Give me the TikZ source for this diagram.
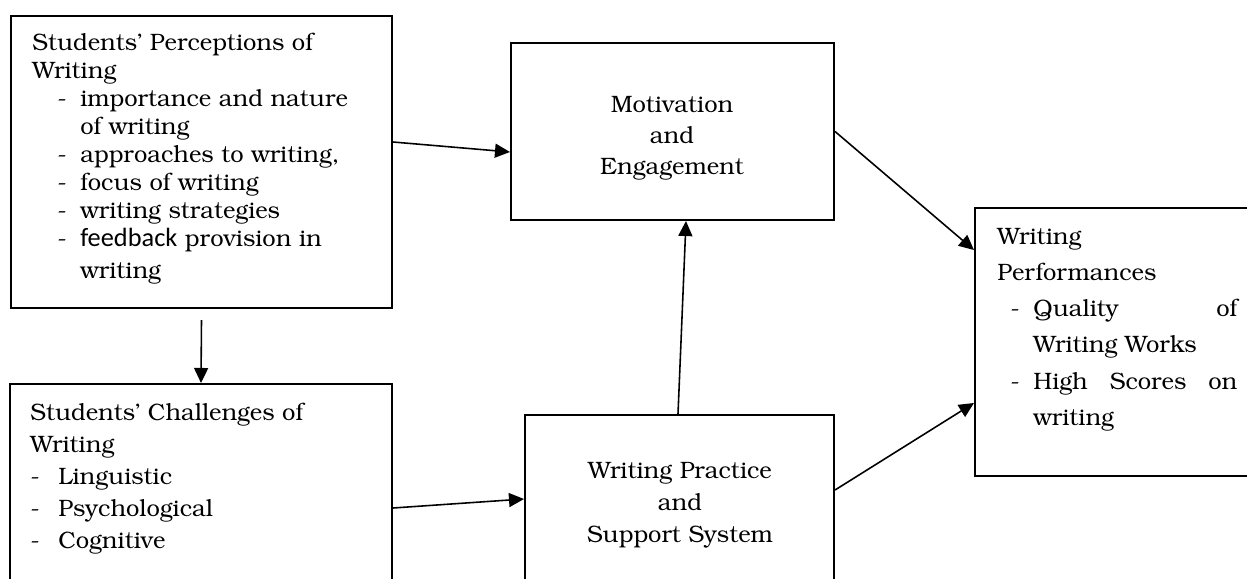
\documentclass[tikz,border=0pt]{standalone}
\usepackage{fontspec}
\newfontfamily\fbfont{Carlito}
\usepackage[T1]{fontenc}
\usepackage{bookman}
\usetikzlibrary{arrows.meta}

% dash item of a list, hanging indent for the following line
\newcommand{\itm}[2]{\makebox[#1][l]{-}#2}

\begin{document}
\begin{tikzpicture}[x=0.02cm, y=-0.02cm,
    frame/.style={draw, line width=1.2pt, inner sep=0pt},
    boxtext/.style={inner sep=0pt, align=left, font=\fontsize{13.5}{#1}\selectfont},
    boxtext/.default=15.9pt,
    midtext/.style={inner sep=0pt, align=center, font=\fontsize{13.5}{#1}\selectfont},
    midtext/.default=17.6pt,
    arr/.style={-{Triangle[length=0.3cm, width=0.28cm]}, line width=0.9pt}
  ]
    \useasboundingbox (0,0) rectangle (1247,578);
    \clip (0,0) rectangle (1247,578);

    % frames
    \node[frame, minimum width=7.62cm, minimum height=5.84cm] (percep) at (201.5,162) {};
    \node[frame, minimum width=7.64cm, minimum height=4.4cm] (chall) at (201,494) {};
    \node[frame, minimum width=6.46cm, minimum height=3.54cm] (motiv) at (672.5,131.5) {};
    \node[frame, minimum width=6.18cm, minimum height=3.7cm] (pract) at (679.5,507.5) {};
    \node[frame, minimum width=5.7cm, minimum height=5.36cm] (perf) at (1117.5,342) {};

    % texts
    \node[boxtext, anchor=north west] (perceptxt) at (32,33) {Students' Perceptions of\\
      Writing\\
      \hspace*{0.5cm}\itm{0.46cm}{importance and nature}\\
      \hspace*{0.96cm}of writing\\
      \hspace*{0.5cm}\itm{0.46cm}{approaches to writing,}\\
      \hspace*{0.5cm}\itm{0.46cm}{focus of writing}\\
      \hspace*{0.5cm}\itm{0.46cm}{writing strategies}\\
      \hspace*{0.5cm}\itm{0.46cm}{{\fbfont\fontsize{15}{15.9}\selectfont feedback} provision in}\\[0.08cm]
      \hspace*{0.96cm}writing};
    \node[boxtext=18.2pt, anchor=north west] (challtxt) at (30,403) {Students' Challenges of\\
      Writing\\
      \itm{0.56cm}{Linguistic}\\
      \itm{0.56cm}{Psychological}\\
      \itm{0.56cm}{Cognitive}};
    \node[midtext] (motivtxt) at (672,138) {Motivation\\ and\\ Engagement};
    \node[midtext=18.2pt] (practtxt) at (680,505) {Writing Practice\\ and\\ Support System};
    \node[boxtext=20.5pt, anchor=north west] (perftxt) at (997,228) {Writing\\
      Performances\\
      \hspace*{0.26cm}\itm{0.46cm}{\makebox[4.08cm][l]{Quality\hfill of}}\\
      \hspace*{0.72cm}Writing Works\\
      \hspace*{0.26cm}\itm{0.46cm}{\makebox[4.08cm][s]{High Scores on}}\\
      \hspace*{0.72cm}writing};

    % connectors
    \draw[arr] ([yshift=0.4cm]percep.east) -- ([yshift=-0.41cm]motiv.west);
    \draw[arr] ([yshift=-0.22cm]percep.south) -- (chall.north);
    \draw[arr] ([yshift=-0.28cm]chall.east) -- ([yshift=0.17cm]pract.west);
    \draw[arr] ([xshift=-0.03cm]pract.north) -- ([xshift=0.27cm]motiv.south);
    \draw[arr] (motiv.east) -- ([yshift=1.84cm]perf.west);
    \draw[arr] ([yshift=0.35cm]pract.east) -- ([yshift=-1.22cm]perf.west);
\end{tikzpicture}
\end{document}
